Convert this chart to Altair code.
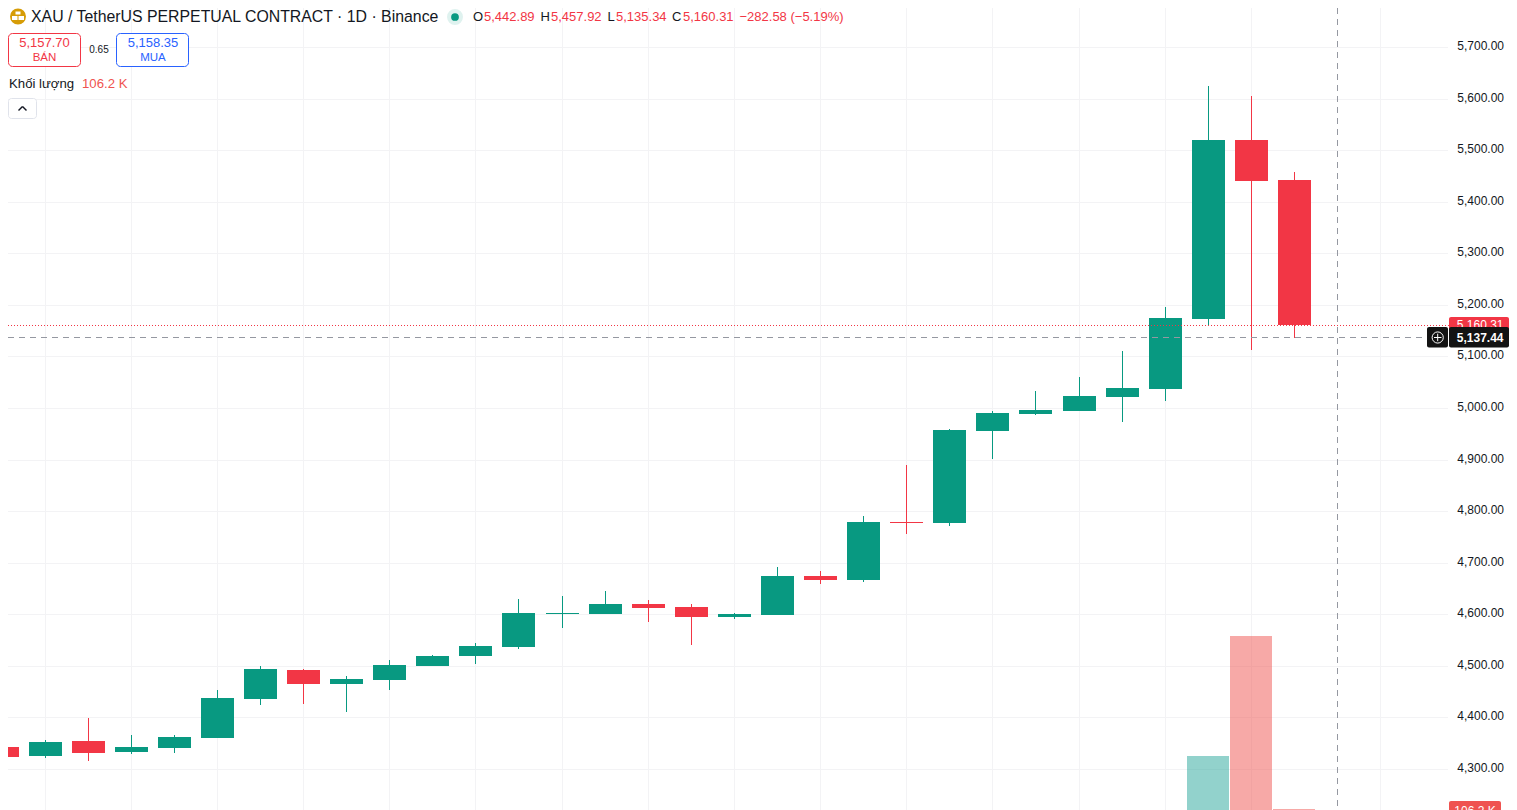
import altair as alt
import pandas as pd

# daily candles
index = list(range(31))
opens = [4342.7,4325.2,4354.3,4333.0,4340.7,4360.1,4435.8,4492.0,4464.9,4472.6,4499.7,4519.1,4536.6,4600.6,4600.6,4619.9,4614.1,4594.7,4598.6,4674.2,4666.5,4778.9,4777.0,4955.4,4988.4,4994.2,5021.3,5036.9,5172.6,5519.7,5442.89]
highs = [4373.7,4356.3,4398.9,4365.9,4365.9,4453.2,4499.7,4493.9,4480.4,4511.4,4521.1,4544.4,4629.6,4635.5,4645.1,4627.7,4619.9,4602.5,4691.7,4683.9,4790.6,4889.5,4959.3,4994.2,5033.0,5060.1,5110.5,5195.8,5624.4,5605.0,5457.92]
lows = [4282.6,4321.3,4315.5,4329.1,4331.0,4360.1,4424.1,4426.1,4410.6,4453.2,4499.7,4503.6,4532.7,4573.4,4600.6,4585.0,4540.4,4590.9,4598.6,4658.7,4662.6,4755.7,4771.2,4901.1,4986.4,4994.2,4972.8,5013.6,5161.0,5112.4,5135.34]
closes = [4323.3,4352.4,4331.0,4342.7,4362.1,4437.7,4493.9,4464.9,4474.5,4501.7,4519.1,4538.5,4602.5,4602.5,4619.9,4612.2,4594.7,4600.6,4674.2,4666.5,4778.9,4777.0,4957.3,4990.3,4996.1,5023.3,5038.8,5174.5,5519.7,5440.1,5160.31]
# only the last three sessions have volume
vol_index = [28, 29, 30]
volumes = [910000, 2730000, 106200]
vol_dirs = ["up", "down", "down"]

price_ticks = [4300,4400,4500,4600,4700,4800,4900,5000,5100,5200,5300,5400,5500,5600,5700]
time_grid = [1,3,5,7,9,11,13,15,17,19,21,23,25,27,29,32]
cross_index = [31]
last_close = [5160.31]
cross_price = [5137.44]

GREEN, RED = "#089981", "#f23645"
INK = "#131722"
GRID = "#f3f3f5"
FONT = "Liberation Sans"

W, H = 1501, 802
xs = alt.Scale(domain=[0.15042, 34.9926], round=True, nice=False, zero=False, padding=0)
ys = alt.Scale(domain=[4220.5, 5775.6], round=True, nice=False, zero=False)
vs = alt.Scale(domain=[0, 12257000], range=[808, 0], round=True, nice=False, zero=False, padding=0)
colors = alt.Scale(domain=["up", "down"], range=[GREEN, RED])
vol_colors = alt.Scale(domain=["up", "down"], range=["#26a69a", "#ef5350"])

candles = pd.DataFrame({"i": index, "o": opens, "h": highs, "l": lows, "c": closes})
candles["dir"] = ["up" if c >= o else "down" for o, c in zip(opens, closes)]
vols = pd.DataFrame({"i": vol_index, "v": volumes, "dir": vol_dirs})
X = alt.X("i:Q", scale=xs, axis=None)
C = alt.Color("dir:N", scale=colors, legend=None)


def px(v):  # page pixels to plot pixels
    return alt.value(v - 8)


def label(s, x, y, color=INK, size=13, align="left", weight="normal"):
    return alt.Chart().mark_text(text=s, align=align, baseline="middle", font=FONT, fontSize=size,
                                 color=color, fontWeight=weight).encode(x=px(x), y=px(y))


def box(x1, x2, y1, y2, fill="transparent", stroke="transparent", radius=0):
    return alt.Chart().mark_rect(fill=fill, stroke=stroke, strokeWidth=1, cornerRadius=radius).encode(
        x=px(x1), x2=px(x2), y=px(y1), y2=px(y2))


def seg(x1, y1, x2, y2, color, w=1.0):
    return alt.Chart().mark_rule(color=color, strokeWidth=w).encode(x=px(x1), x2=px(x2), y=px(y1), y2=px(y2))


grid_h = alt.Chart(pd.DataFrame({"p": price_ticks})).mark_rule(color=GRID, yOffset=0.5).encode(
    y=alt.Y("p:Q", scale=ys, axis=None), x=alt.value(0), x2=alt.value(1440))
grid_v = alt.Chart(pd.DataFrame({"i": time_grid})).mark_rule(color=GRID, xOffset=0.5).encode(
    x=X, y=alt.value(0), y2=alt.value(H))
axis = alt.Chart(pd.DataFrame({"p": price_ticks})).mark_point(opacity=0).encode(
    y=alt.Y("p:Q", scale=ys, axis=alt.Axis(orient="right", values=price_ticks, format=",.2f", title=None,
                                          domain=False, ticks=False, grid=False, labelPadding=-5.5,
                                          labelAlign="right", labelFont=FONT, labelFontSize=12,
                                          labelColor=INK, labelOffset=-1.5, labelBaseline="middle")))
vol = alt.Chart(vols).mark_bar(size=42, opacity=0.5).encode(
    x=X, y=alt.Y("v:Q", scale=vs, axis=None, stack=None),
    color=alt.Color("dir:N", scale=vol_colors, legend=None))
wicks = alt.Chart(candles).mark_rule(strokeWidth=1, xOffset=0.5).encode(
    x=X, y=alt.Y("l:Q", scale=ys, axis=None), y2="h:Q", color=C)
bodies = alt.Chart(candles).mark_bar(size=33, xOffset=0.5).encode(
    x=X, y=alt.Y("o:Q", scale=ys, axis=None), y2="c:Q", color=C)
price_line = alt.Chart(pd.DataFrame({"p": last_close})).mark_rule(color=RED, strokeDash=[1, 2], yOffset=0.5).encode(
    y=alt.Y("p:Q", scale=ys, axis=None), x=alt.value(0), x2=alt.value(1441))
cross_h = alt.Chart(pd.DataFrame({"p": cross_price})).mark_rule(color="#9598a1", strokeDash=[6, 5], yOffset=0.5).encode(
    y=alt.Y("p:Q", scale=ys, axis=None), x=alt.value(0), x2=alt.value(1419))
cross_v = alt.Chart(pd.DataFrame({"i": cross_index})).mark_rule(color="#9598a1", strokeDash=[6, 5], xOffset=0.5).encode(
    x=X, y=alt.value(0), y2=alt.value(H))

layers = [grid_h, grid_v, axis, vol, wicks, bodies, price_line, cross_v, cross_h,
          # last price tag
          box(1449, 1509, 317, 334, fill=RED, radius=2),
          label("5,160.31", 1503.5, 325, color="#ffffff", size=12, align="right"),
          # crosshair tag
          box(1427, 1448, 327, 347.5, fill="#131313", radius=2),
          box(1449, 1509, 327, 347.5, fill="#131313", radius=2),
          label("5,137.44", 1503.5, 337.5, color="#ffffff", size=12, align="right", weight="bold"),
          alt.Chart().mark_point(shape="circle", size=125, stroke="#ffffff", strokeWidth=1, fill="transparent", opacity=1).encode(x=px(1437.7), y=px(337.5)),
          seg(1434, 337.5, 1441.5, 337.5, "#ffffff"),
          seg(1437.7, 333.7, 1437.7, 341.2, "#ffffff"),
          # volume tag
          box(1449, 1501, 801, 830, fill="#ef5350", radius=2),
          label("106.2 K", 1475, 811, color="#ffffff", size=12, align="center"),
          # header
          alt.Chart().mark_circle(size=254, color="#d69c06", opacity=1).encode(x=px(18), y=px(16.5)),
          box(15.5, 20.5, 11.5, 14.5, fill="#ffffff"),
          box(12, 17.5, 16, 20, fill="#ffffff"),
          box(18.5, 24, 16, 20, fill="#ffffff"),
          label("XAU / TetherUS PERPETUAL CONTRACT · 1D · Binance", 31, 16.5, size=15.85),
          alt.Chart().mark_circle(size=254, color="#dff2ef", opacity=1).encode(x=px(455), y=px(17)),
          alt.Chart().mark_circle(size=60, color=GREEN, opacity=1).encode(x=px(455), y=px(17)),
          label("O", 473, 17), label("5,442.89", 484, 17, color=RED),
          label("H", 540.5, 17), label("5,457.92", 551, 17, color=RED),
          label("L", 607.5, 17), label("5,135.34", 616, 17, color=RED),
          label("C", 672, 17), label("5,160.31", 683, 17, color=RED),
          label("−282.58 (−5.19%)", 739.5, 17, color=RED),
          box(8.5, 80.5, 33.5, 66.5, fill="#ffffff", stroke=RED, radius=4),
          label("5,157.70", 44.5, 43, color=RED, size=13, align="center"),
          label("BÁN", 44.5, 57.5, color=RED, size=11.5, align="center"),
          label("0.65", 99, 49.5, size=10, align="center"),
          box(116.5, 188.5, 33.5, 66.5, fill="#ffffff", stroke="#2962ff", radius=4),
          label("5,158.35", 153, 43, color="#2962ff", size=13, align="center"),
          label("MUA", 153, 57.5, color="#2962ff", size=11.5, align="center"),
          label("Khối lượng", 9, 83.5, size=13.2),
          label("106.2 K", 82, 83.5, color="#ef5350", size=13.2),
          box(8.5, 36.5, 98.5, 118.5, fill="#ffffff", stroke="#e0e3eb", radius=3),
          seg(18.5, 110.5, 22.5, 106.5, INK, 1.5),
          seg(22.5, 106.5, 26.5, 110.5, INK, 1.5),
          ]

chart = alt.layer(*layers).resolve_scale(y="independent", color="independent").properties(
    width=W, height=H, padding=0, autosize=alt.AutoSizeParams(type="none"),
).configure_view(stroke=None)

chart.save("out.html", embed_options={"renderer": "svg", "actions": False})
